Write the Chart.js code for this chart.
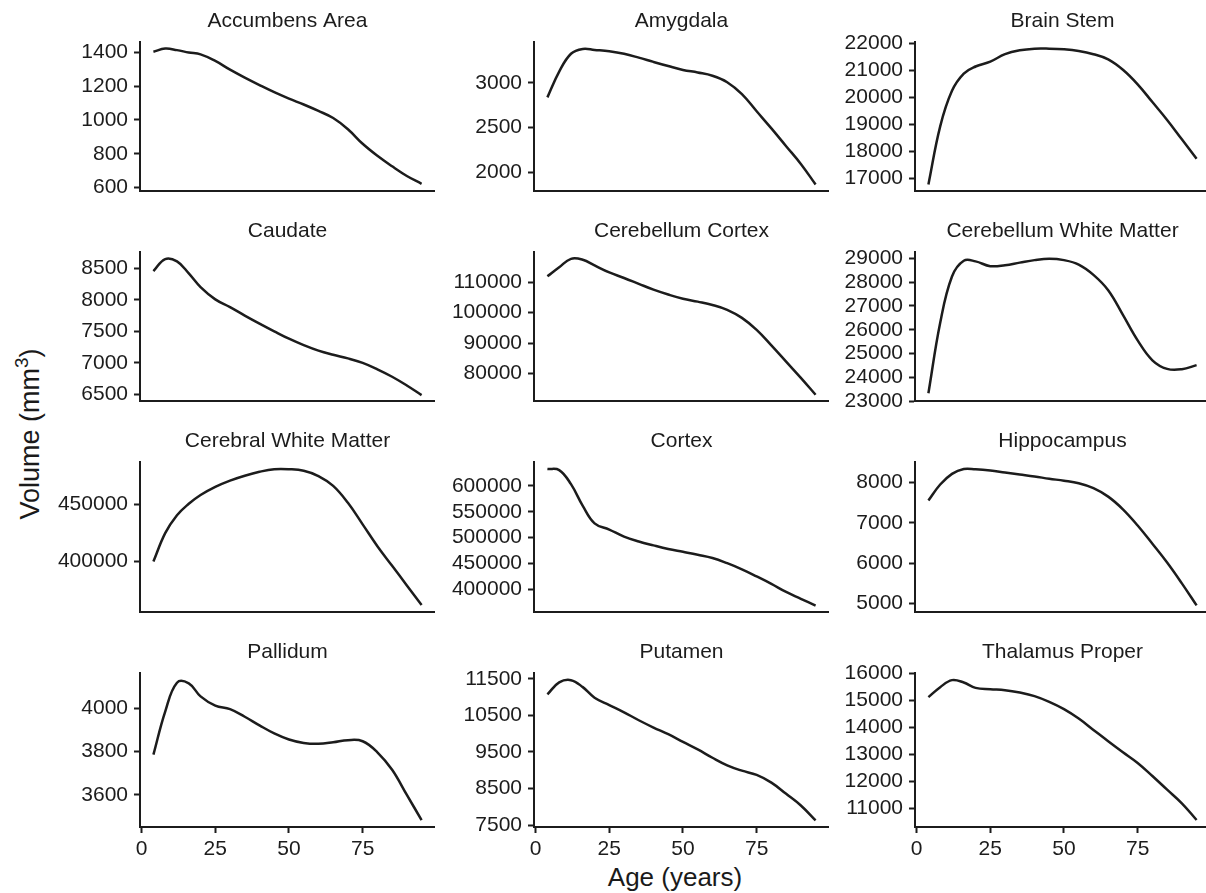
<!DOCTYPE html>
<html>
<head>
<meta charset="utf-8">
<script src="https://cdn.jsdelivr.net/npm/chart.js@4.4.1/dist/chart.umd.min.js"></script>
<style>
  html, body { margin: 0; padding: 0; background: #fff; overflow: hidden; }
  body { width: 1206px; height: 893px; position: relative; font-family: "Liberation Sans", Arial, Helvetica, sans-serif; color: #1a1a1a; }
  .panel { position: absolute; }
  .axis-title { position: absolute; white-space: nowrap; line-height: 1; }
  #xTitle { left: 675px; top: 877px; font-size: 26px; transform: translate(-50%, -50%); }
  #yTitle { left: 30px; top: 434px; font-size: 27px; transform: translate(-50%, -50%) rotate(-90deg); }
  sup { font-size: 0.7em; vertical-align: 0.55em; line-height: 0; }
</style>
</head>
<body>
<div id="xTitle" class="axis-title">Age (years)</div>
<div id="yTitle" class="axis-title">Volume (mm<sup>3</sup>)</div>
<script>
// ages where each fitted curve is sampled
const ages = [4, 8, 12, 16, 20, 25, 30, 35, 40, 45, 50, 55, 60, 65, 70, 75, 80, 85, 90, 95];
const ageTicks = [0, 25, 50, 75];

const accumbensArea = [1402, 1421, 1412, 1398, 1387, 1348, 1297, 1250, 1206, 1164, 1126, 1091, 1053, 1011, 945, 859, 788, 726, 669, 623];
const amygdala = [2838, 3125, 3324, 3378, 3367, 3352, 3324, 3281, 3233, 3187, 3144, 3115, 3079, 3007, 2874, 2683, 2492, 2294, 2096, 1867];
const brainStem = [16770, 18921, 20237, 20874, 21137, 21317, 21594, 21737, 21797, 21797, 21773, 21712, 21594, 21403, 21018, 20478, 19820, 19158, 18439, 17720];
const caudate = [8458, 8649, 8612, 8423, 8203, 8008, 7885, 7751, 7623, 7500, 7382, 7280, 7192, 7126, 7069, 6997, 6895, 6777, 6638, 6485];
const cerebellumCortex = [111917, 114900, 117650, 117350, 115500, 113195, 111374, 109457, 107540, 105942, 104568, 103610, 102524, 100927, 98275, 94345, 89233, 83898, 78562, 73035];
const cerebellumWhiteMatter = [23338, 26290, 28235, 28895, 28867, 28666, 28706, 28815, 28919, 28976, 28919, 28734, 28303, 27659, 26624, 25553, 24719, 24357, 24344, 24517];
const cerebralWhiteMatter = [400000, 424870, 440570, 450600, 458320, 465440, 470920, 475210, 478640, 480870, 480870, 479500, 474870, 466300, 451460, 432590, 413470, 396310, 379160, 362000];
const cortex = [632600, 630400, 603200, 561300, 527600, 515600, 502000, 492600, 485100, 478200, 472600, 466900, 460700, 450700, 438800, 425100, 410700, 395100, 382000, 368900];
const hippocampus = [7555, 7952, 8218, 8339, 8330, 8298, 8249, 8201, 8153, 8096, 8047, 7983, 7862, 7652, 7337, 6935, 6482, 6015, 5497, 4949];
const pallidum = [3786, 3985, 4118, 4115, 4055, 4012, 3996, 3961, 3921, 3884, 3856, 3840, 3836, 3843, 3853, 3848, 3797, 3716, 3600, 3484];
const putamen = [11073, 11400, 11462, 11272, 10984, 10783, 10584, 10367, 10168, 9986, 9777, 9571, 9342, 9136, 8989, 8872, 8663, 8356, 8038, 7630];
const thalamusProper = [15111, 15481, 15741, 15652, 15456, 15407, 15370, 15281, 15148, 14937, 14667, 14319, 13900, 13481, 13074, 12678, 12196, 11689, 11185, 10567];

const accumbensTicks = [600, 800, 1000, 1200, 1400];
const amygdalaTicks = [2000, 2500, 3000];
const brainStemTicks = [17000, 18000, 19000, 20000, 21000, 22000];
const caudateTicks = [6500, 7000, 7500, 8000, 8500];
const cerebellumCortexTicks = [80000, 90000, 100000, 110000];
const cerebellumWMTicks = [23000, 24000, 25000, 26000, 27000, 28000, 29000];
const cerebralWMTicks = [400000, 450000];
const cortexTicks = [400000, 450000, 500000, 550000, 600000];
const hippocampusTicks = [5000, 6000, 7000, 8000];
const pallidumTicks = [3600, 3800, 4000];
const putamenTicks = [7500, 8500, 9500, 10500, 11500];
const thalamusTicks = [11000, 12000, 13000, 14000, 15000, 16000];

const panels = [
    {title: 'Accumbens Area', values: accumbensArea, ticks: accumbensTicks, min: 578, max: 1460},
    {title: 'Amygdala', values: amygdala, ticks: amygdalaTicks, min: 1790, max: 3455},
    {title: 'Brain Stem', values: brainStem, ticks: brainStemTicks, min: 16510, max: 22045},
    {title: 'Caudate', values: caudate, ticks: caudateTicks, min: 6385, max: 8762},
    {title: 'Cerebellum Cortex', values: cerebellumCortex, ticks: cerebellumCortexTicks, min: 70850, max: 119900},
    {title: 'Cerebellum White Matter', values: cerebellumWhiteMatter, ticks: cerebellumWMTicks, min: 22995, max: 29260},
    {title: 'Cerebral White Matter', values: cerebralWhiteMatter, ticks: cerebralWMTicks, min: 355500, max: 487200},
    {title: 'Cortex', values: cortex, ticks: cortexTicks, min: 355700, max: 646000},
    {title: 'Hippocampus', values: hippocampus, ticks: hippocampusTicks, min: 4775, max: 8512},
    {title: 'Pallidum', values: pallidum, ticks: pallidumTicks, min: 3452, max: 4163},
    {title: 'Putamen', values: putamen, ticks: putamenTicks, min: 7450, max: 11658},
    {title: 'Thalamus Proper', values: thalamusProper, ticks: thalamusTicks, min: 10308, max: 16005}
];

const ink = '#1c1c1c';
const fontFamily = '"Liberation Sans", Arial, Helvetica, sans-serif';
const colLeft = [40, 434, 815];
const plotTop = [42, 252, 462, 673];
const plotHeight = [154, 154, 155, 154];
const yAxisWidth = 100;
const plotWidth = 295;
const titleBox = 34;

panels.forEach((p, i) => {
    const row = Math.floor(i / 3);
    const col = i % 3;
    const bottomRow = row === 3;
    const xAxisHeight = bottomRow ? 60 : 14;

    const div = document.createElement('div');
    div.className = 'panel';
    div.style.left = colLeft[col] + 'px';
    div.style.top = (plotTop[row] - titleBox) + 'px';
    const canvas = document.createElement('canvas');
    canvas.width = yAxisWidth + plotWidth;
    canvas.height = titleBox + plotHeight[row] + xAxisHeight;
    div.appendChild(canvas);
    document.body.appendChild(div);

    new Chart(canvas, {
        type: 'line',
        data: {
            datasets: [{
                data: ages.map((a, k) => ({x: a, y: p.values[k]})),
                borderColor: ink,
                borderWidth: 2.5,
                pointRadius: 0,
                fill: false,
                tension: 0.4
            }]
        },
        options: {
            responsive: false,
            animation: false,
            layout: {padding: 0},
            scales: {
                x: {
                    type: 'linear',
                    min: -0.55,
                    max: 99.55,
                    afterBuildTicks: s => { s.ticks = ageTicks.map(v => ({value: v})); },
                    afterFit: s => { s.height = xAxisHeight; },
                    ticks: {
                        display: bottomRow,
                        autoSkip: false,
                        maxRotation: 0,
                        padding: 4,
                        color: ink,
                        font: {size: 21, family: fontFamily}
                    },
                    grid: {display: true, drawOnChartArea: false, drawTicks: bottomRow, tickLength: 6, tickWidth: 2, tickColor: ink},
                    border: {display: true, color: ink, width: 2}
                },
                y: {
                    type: 'linear',
                    min: p.min,
                    max: p.max,
                    afterBuildTicks: s => { s.ticks = p.ticks.map(v => ({value: v})); },
                    afterFit: s => { s.width = yAxisWidth; },
                    ticks: {
                        autoSkip: false,
                        padding: 6,
                        color: ink,
                        font: {size: 21, family: fontFamily},
                        callback: v => String(v)
                    },
                    grid: {display: true, drawOnChartArea: false, drawTicks: true, tickLength: 6, tickWidth: 2, tickColor: ink},
                    border: {display: true, color: ink, width: 2}
                }
            },
            plugins: {
                legend: {display: false},
                tooltip: {enabled: false},
                title: {
                    display: true,
                    fullSize: false,
                    text: p.title,
                    color: ink,
                    font: {size: 21, family: fontFamily, weight: 'normal'},
                    padding: {top: 0.8, bottom: 8}
                }
            }
        }
    });
});
</script>
</body>
</html>
